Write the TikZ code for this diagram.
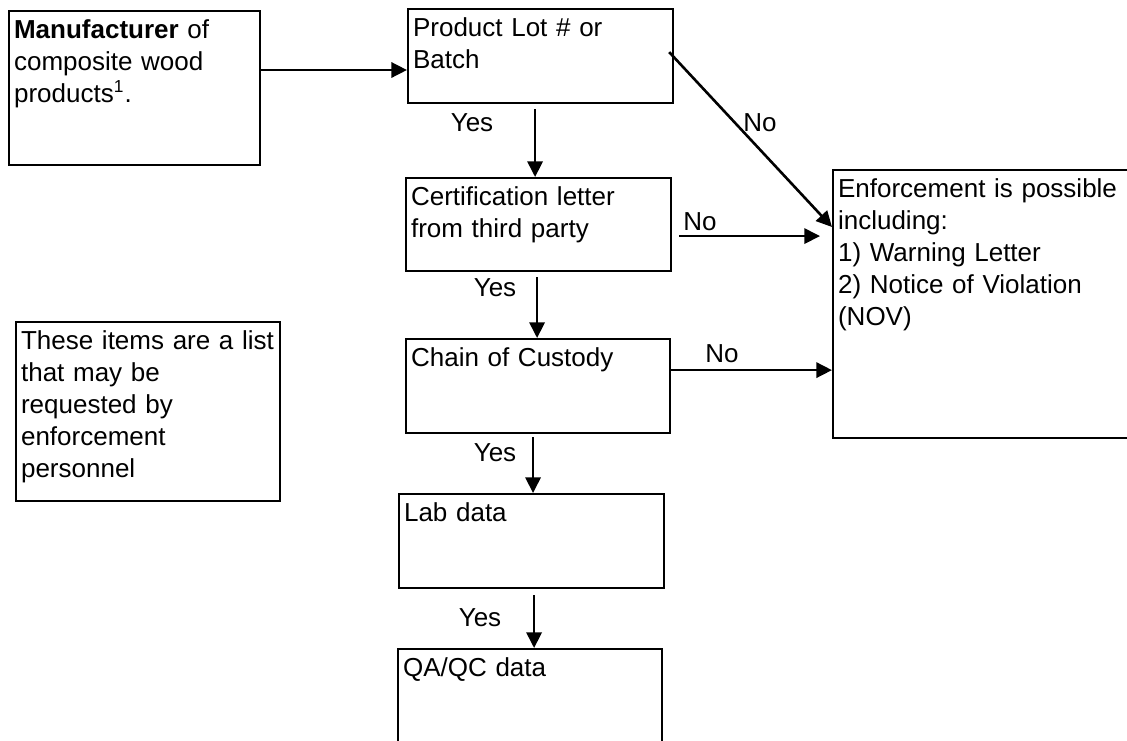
\documentclass[tikz,border=0pt]{standalone}
\usepackage{fontspec}
\setmainfont{Liberation Sans}
\usepackage{tikz}
\usetikzlibrary{arrows.meta, positioning, calc}

\begin{document}
\begin{tikzpicture}[
      x=0.4615pt, y=-0.4615pt,
      >={Triangle[length=7.2pt,width=7pt]},
      font=\fontsize{12}{14.8}\selectfont,
      block/.style = {
        draw,
        line width=1pt,
        anchor=north west,
        align=left,
        inner xsep=2.3pt,
        inner ysep=2pt,
        text height=10.5pt
      },
      arr/.style = {->, line width=1.2pt},
      lbl/.style = {inner sep=0pt}
    ]

    \useasboundingbox (0,0) rectangle (1127,740);
    \clip (0,0) rectangle (1127,740);

    \node[block, text width=111.2pt, text depth=56.6pt] (manu)  at (8,10)
      {\textbf{Manufacturer} of\\composite wood\\products\textsuperscript{1}.};
    \node[block, text width=117.7pt, text depth=28.9pt] (lot)   at (407,8)
      {Product Lot \# or\\Batch};
    \node[block, text width=117.7pt, text depth=28.4pt] (cert)  at (405,177)
      {Certification letter\\from third party};
    \node[block, text width=117.2pt, text depth=28.9pt] (chain) at (405,338)
      {Chain of Custody};
    \node[block, text width=117.7pt, text depth=28.9pt] (lab)   at (398,493)
      {Lab data};
    \node[block, text width=117.2pt, text depth=28.9pt] (qa)    at (397,648)
      {QA/QC data};
    \node[block, text width=133.9pt, text depth=109.2pt] (enf)  at (832,169)
      {Enforcement is possible\\including:\\1) Warning Letter\\2) Notice of Violation\\(NOV)};
    \node[block, text width=117.2pt, text depth=68.1pt] (note)  at (15,321)
      {These items are a list\\that may be\\requested by\\enforcement\\personnel};

    \draw[arr] ($(manu.north east)+(0,60)$) coordinate (m1) -- (m1 -| lot.west);

    \draw[arr] ($(lot.south)+(-5.5,5)$)   coordinate (l1) -- (l1 |- cert.north);
    \draw[arr] ($(cert.south)+(-1.5,5)$)  coordinate (c2) -- (c2 |- chain.north);
    \draw[arr] ($(chain.south)+(-5,3)$)   coordinate (h2) -- (h2 |- lab.north);
    \draw[arr] ($(lab.south)+(2.5,6)$)    coordinate (b1) -- (b1 |- qa.north);

    \draw[arr] ($(lot.east)+(-5,-4)$) -- ($(enf.north west)+(0,58)$);
    \draw[arr] ($(cert.east)+(7,11.5)$) coordinate (c1) -- ($(c1 -| enf.west)+(-12,0)$);
    \draw[arr] ($(chain.east)+(0,-16)$) coordinate (h1) -- (h1 -| enf.west);

    \node[lbl] (yes1) at (472,123) {Yes};
    \node[lbl] (yes2) at (495,288) {Yes};
    \node[lbl] (yes3) at (495,453) {Yes};
    \node[lbl] (yes4) at (480,618) {Yes};
    \node[lbl] (no1)  at (760,123) {No};
    \node[lbl] (no2)  at (700,222) {No};
    \node[lbl] (no3)  at (722,354) {No};

  \end{tikzpicture}
\end{document}
